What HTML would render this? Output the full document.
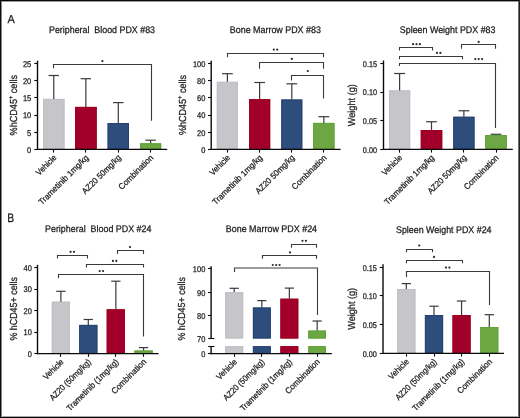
<!DOCTYPE html>
<html><head><meta charset="utf-8"><style>
html,body{margin:0;padding:0;background:#fff;}
#wrap{position:relative;width:520px;height:418px;overflow:hidden;background:#fff;}
svg{position:absolute;left:0;top:0;will-change:transform;text-rendering:geometricPrecision;font-family:"Liberation Sans", sans-serif;}
</style></head><body><div id="wrap">
<svg width="520" height="418" viewBox="0 0 520 418">
<rect x="0" y="0" width="520" height="418" fill="#fff"/>
<rect x="43" y="98.9" width="21.5" height="50.5" fill="#c6c5ca"/>
<rect x="43.45" y="99.35" width="20.6" height="49.6" fill="none" stroke="#bebdc3" stroke-width="0.9"/>
<line x1="53.75" y1="75.5" x2="53.75" y2="98.9" stroke="#3a3a3a" stroke-width="1.2"/>
<line x1="48.55" y1="75.5" x2="58.95" y2="75.5" stroke="#3a3a3a" stroke-width="1.2"/>
<line x1="53.5" y1="149.4" x2="53.5" y2="152.6" stroke="#0a0a0a" stroke-width="1.1"/>
<rect x="75" y="106.9" width="21.7" height="42.5" fill="#a2002a"/>
<rect x="75.45" y="107.35" width="20.8" height="41.6" fill="none" stroke="#9c001c" stroke-width="0.9"/>
<line x1="85.85" y1="78.7" x2="85.85" y2="106.9" stroke="#3a3a3a" stroke-width="1.2"/>
<line x1="80.64999999999999" y1="78.7" x2="91.05" y2="78.7" stroke="#3a3a3a" stroke-width="1.2"/>
<line x1="85.5" y1="149.4" x2="85.5" y2="152.6" stroke="#0a0a0a" stroke-width="1.1"/>
<rect x="107.6" y="123" width="21.4" height="26.4" fill="#2d4d7d"/>
<rect x="108.05" y="123.45" width="20.5" height="25.5" fill="none" stroke="#26416f" stroke-width="0.9"/>
<line x1="118.3" y1="102.6" x2="118.3" y2="123" stroke="#3a3a3a" stroke-width="1.2"/>
<line x1="113.1" y1="102.6" x2="123.5" y2="102.6" stroke="#3a3a3a" stroke-width="1.2"/>
<line x1="118.5" y1="149.4" x2="118.5" y2="152.6" stroke="#0a0a0a" stroke-width="1.1"/>
<rect x="140" y="143.3" width="21.2" height="6.1" fill="#6ca743"/>
<rect x="140.45" y="143.75" width="20.3" height="5.2" fill="none" stroke="#5fa233" stroke-width="0.9"/>
<line x1="150.6" y1="140.2" x2="150.6" y2="143.3" stroke="#3a3a3a" stroke-width="1.2"/>
<line x1="145.4" y1="140.2" x2="155.79999999999998" y2="140.2" stroke="#3a3a3a" stroke-width="1.2"/>
<line x1="150.5" y1="149.4" x2="150.5" y2="152.6" stroke="#0a0a0a" stroke-width="1.1"/>
<line x1="37.5" y1="60.7" x2="37.5" y2="150.0" stroke="#0a0a0a" stroke-width="1.4"/>
<line x1="34.3" y1="149.5" x2="37.5" y2="149.5" stroke="#0a0a0a" stroke-width="1.1"/>
<text x="31.2" y="152.705" font-size="8.3" text-anchor="end" textLength="4.16" lengthAdjust="spacingAndGlyphs" fill="#1a1a1a" stroke="#1a1a1a" stroke-width="0.25" >0</text>
<line x1="34.3" y1="132.5" x2="37.5" y2="132.5" stroke="#0a0a0a" stroke-width="1.1"/>
<text x="31.2" y="135.525" font-size="8.3" text-anchor="end" textLength="4.16" lengthAdjust="spacingAndGlyphs" fill="#1a1a1a" stroke="#1a1a1a" stroke-width="0.25" >5</text>
<line x1="34.3" y1="115.5" x2="37.5" y2="115.5" stroke="#0a0a0a" stroke-width="1.1"/>
<text x="31.2" y="118.34500000000001" font-size="8.3" text-anchor="end" textLength="8.31" lengthAdjust="spacingAndGlyphs" fill="#1a1a1a" stroke="#1a1a1a" stroke-width="0.25" >10</text>
<line x1="34.3" y1="97.5" x2="37.5" y2="97.5" stroke="#0a0a0a" stroke-width="1.1"/>
<text x="31.2" y="101.165" font-size="8.3" text-anchor="end" textLength="8.31" lengthAdjust="spacingAndGlyphs" fill="#1a1a1a" stroke="#1a1a1a" stroke-width="0.25" >15</text>
<line x1="34.3" y1="80.5" x2="37.5" y2="80.5" stroke="#0a0a0a" stroke-width="1.1"/>
<text x="31.2" y="83.98500000000001" font-size="8.3" text-anchor="end" textLength="8.31" lengthAdjust="spacingAndGlyphs" fill="#1a1a1a" stroke="#1a1a1a" stroke-width="0.25" >20</text>
<line x1="34.3" y1="63.5" x2="37.5" y2="63.5" stroke="#0a0a0a" stroke-width="1.1"/>
<text x="31.2" y="66.805" font-size="8.3" text-anchor="end" textLength="8.31" lengthAdjust="spacingAndGlyphs" fill="#1a1a1a" stroke="#1a1a1a" stroke-width="0.25" >25</text>
<line x1="36.9" y1="149.4" x2="167.2" y2="149.4" stroke="#0a0a0a" stroke-width="1.25"/>
<path d="M53.5 68.3 V64.5 H151.5 V120.8" fill="none" stroke="#3a3a3a" stroke-width="1.1"/>
<circle cx="102.4" cy="61.1" r="1.1" fill="#2a2a2a"/>
<g transform="translate(16.9,105.2) rotate(-90)">
<text x="0" y="0" font-size="10.2" text-anchor="middle" textLength="60.4" lengthAdjust="spacingAndGlyphs" fill="#1a1a1a" stroke="#1a1a1a" stroke-width="0.25" >%hCD45<tspan font-size="6.5" dy="-3.8">+</tspan><tspan dy="3.8"> cells</tspan></text>
</g>
<text x="49.0" y="32.7" font-size="9.6" text-anchor="start" textLength="106.0" lengthAdjust="spacingAndGlyphs" fill="#1a1a1a" stroke="#1a1a1a" stroke-width="0.25" >Peripheral&#160; Blood PDX #83</text>
<text x="57.05" y="158.2" font-size="8.5" text-anchor="end" stroke="#1a1a1a" stroke-width="0.25" textLength="25.11" lengthAdjust="spacingAndGlyphs" fill="#1a1a1a" transform="rotate(-45 57.05 158.2)">Vehicle</text>
<text x="89.15" y="158.2" font-size="8.5" text-anchor="end" stroke="#1a1a1a" stroke-width="0.25" textLength="66.68" lengthAdjust="spacingAndGlyphs" fill="#1a1a1a" transform="rotate(-45 89.15 158.2)">Trametinib 1mg/kg</text>
<text x="121.6" y="158.2" font-size="8.5" text-anchor="end" stroke="#1a1a1a" stroke-width="0.25" textLength="51.28" lengthAdjust="spacingAndGlyphs" fill="#1a1a1a" transform="rotate(-45 121.6 158.2)">AZ20 50mg/kg</text>
<text x="153.9" y="158.2" font-size="8.5" text-anchor="end" stroke="#1a1a1a" stroke-width="0.25" textLength="45.31" lengthAdjust="spacingAndGlyphs" fill="#1a1a1a" transform="rotate(-45 153.9 158.2)">Combination</text>
<rect x="216.8" y="81.8" width="21.2" height="67.6" fill="#c6c5ca"/>
<rect x="217.25" y="82.25" width="20.3" height="66.7" fill="none" stroke="#bebdc3" stroke-width="0.9"/>
<line x1="227.4" y1="73.7" x2="227.4" y2="81.8" stroke="#3a3a3a" stroke-width="1.2"/>
<line x1="222.0" y1="73.7" x2="232.8" y2="73.7" stroke="#3a3a3a" stroke-width="1.2"/>
<line x1="227.5" y1="149.4" x2="227.5" y2="152.6" stroke="#0a0a0a" stroke-width="1.1"/>
<rect x="249" y="99.2" width="21.2" height="50.2" fill="#a2002a"/>
<rect x="249.45" y="99.65" width="20.3" height="49.3" fill="none" stroke="#9c001c" stroke-width="0.9"/>
<line x1="259.6" y1="82.5" x2="259.6" y2="99.2" stroke="#3a3a3a" stroke-width="1.2"/>
<line x1="254.20000000000002" y1="82.5" x2="265.0" y2="82.5" stroke="#3a3a3a" stroke-width="1.2"/>
<line x1="259.5" y1="149.4" x2="259.5" y2="152.6" stroke="#0a0a0a" stroke-width="1.1"/>
<rect x="281.3" y="99.5" width="21.0" height="49.9" fill="#2d4d7d"/>
<rect x="281.75" y="99.95" width="20.1" height="49.0" fill="none" stroke="#26416f" stroke-width="0.9"/>
<line x1="291.8" y1="83.8" x2="291.8" y2="99.5" stroke="#3a3a3a" stroke-width="1.2"/>
<line x1="286.40000000000003" y1="83.8" x2="297.2" y2="83.8" stroke="#3a3a3a" stroke-width="1.2"/>
<line x1="291.5" y1="149.4" x2="291.5" y2="152.6" stroke="#0a0a0a" stroke-width="1.1"/>
<rect x="313.2" y="122.9" width="21.3" height="26.5" fill="#6ca743"/>
<rect x="313.65" y="123.35" width="20.4" height="25.6" fill="none" stroke="#5fa233" stroke-width="0.9"/>
<line x1="323.85" y1="116.7" x2="323.85" y2="122.9" stroke="#3a3a3a" stroke-width="1.2"/>
<line x1="318.45000000000005" y1="116.7" x2="329.25" y2="116.7" stroke="#3a3a3a" stroke-width="1.2"/>
<line x1="323.5" y1="149.4" x2="323.5" y2="152.6" stroke="#0a0a0a" stroke-width="1.1"/>
<line x1="211.2" y1="60.8" x2="211.2" y2="150.0" stroke="#0a0a0a" stroke-width="1.4"/>
<line x1="208.0" y1="149.5" x2="211.2" y2="149.5" stroke="#0a0a0a" stroke-width="1.1"/>
<text x="205.4" y="152.705" font-size="8.3" text-anchor="end" textLength="4.16" lengthAdjust="spacingAndGlyphs" fill="#1a1a1a" stroke="#1a1a1a" stroke-width="0.25" >0</text>
<line x1="208.0" y1="132.5" x2="211.2" y2="132.5" stroke="#0a0a0a" stroke-width="1.1"/>
<text x="205.4" y="135.54500000000002" font-size="8.3" text-anchor="end" textLength="8.31" lengthAdjust="spacingAndGlyphs" fill="#1a1a1a" stroke="#1a1a1a" stroke-width="0.25" >20</text>
<line x1="208.0" y1="115.5" x2="211.2" y2="115.5" stroke="#0a0a0a" stroke-width="1.1"/>
<text x="205.4" y="118.385" font-size="8.3" text-anchor="end" textLength="8.31" lengthAdjust="spacingAndGlyphs" fill="#1a1a1a" stroke="#1a1a1a" stroke-width="0.25" >40</text>
<line x1="208.0" y1="97.5" x2="211.2" y2="97.5" stroke="#0a0a0a" stroke-width="1.1"/>
<text x="205.4" y="101.22500000000001" font-size="8.3" text-anchor="end" textLength="8.31" lengthAdjust="spacingAndGlyphs" fill="#1a1a1a" stroke="#1a1a1a" stroke-width="0.25" >60</text>
<line x1="208.0" y1="80.5" x2="211.2" y2="80.5" stroke="#0a0a0a" stroke-width="1.1"/>
<text x="205.4" y="84.06500000000001" font-size="8.3" text-anchor="end" textLength="8.31" lengthAdjust="spacingAndGlyphs" fill="#1a1a1a" stroke="#1a1a1a" stroke-width="0.25" >80</text>
<line x1="208.0" y1="63.5" x2="211.2" y2="63.5" stroke="#0a0a0a" stroke-width="1.1"/>
<text x="205.4" y="66.905" font-size="8.3" text-anchor="end" textLength="12.47" lengthAdjust="spacingAndGlyphs" fill="#1a1a1a" stroke="#1a1a1a" stroke-width="0.25" >100</text>
<line x1="210.6" y1="149.4" x2="340.6" y2="149.4" stroke="#0a0a0a" stroke-width="1.25"/>
<path d="M227.5 57.3 V53.5 H323.5 V57.3" fill="none" stroke="#3a3a3a" stroke-width="1.1"/>
<circle cx="273.8" cy="49.6" r="1.1" fill="#2a2a2a"/>
<circle cx="277.2" cy="49.6" r="1.1" fill="#2a2a2a"/>
<path d="M259.5 68.8 V62.5 H323.5 V68.8" fill="none" stroke="#3a3a3a" stroke-width="1.1"/>
<circle cx="291.8" cy="58.9" r="1.1" fill="#2a2a2a"/>
<path d="M291.5 80.4 V75.5 H323.5 V98.6" fill="none" stroke="#3a3a3a" stroke-width="1.1"/>
<circle cx="307.8" cy="71.1" r="1.1" fill="#2a2a2a"/>
<g transform="translate(185.5,105.0) rotate(-90)">
<text x="0" y="0" font-size="10.2" text-anchor="middle" textLength="60.1" lengthAdjust="spacingAndGlyphs" fill="#1a1a1a" stroke="#1a1a1a" stroke-width="0.25" >%hCD45<tspan font-size="6.5" dy="-3.8">+</tspan><tspan dy="3.8"> cells</tspan></text>
</g>
<text x="229.8" y="32.8" font-size="9.6" text-anchor="start" textLength="91.1" lengthAdjust="spacingAndGlyphs" fill="#1a1a1a" stroke="#1a1a1a" stroke-width="0.25" >Bone Marrow PDX #83</text>
<text x="230.7" y="158.2" font-size="8.5" text-anchor="end" stroke="#1a1a1a" stroke-width="0.25" textLength="25.11" lengthAdjust="spacingAndGlyphs" fill="#1a1a1a" transform="rotate(-45 230.7 158.2)">Vehicle</text>
<text x="262.9" y="158.2" font-size="8.5" text-anchor="end" stroke="#1a1a1a" stroke-width="0.25" textLength="66.68" lengthAdjust="spacingAndGlyphs" fill="#1a1a1a" transform="rotate(-45 262.9 158.2)">Trametinib 1mg/kg</text>
<text x="295.1" y="158.2" font-size="8.5" text-anchor="end" stroke="#1a1a1a" stroke-width="0.25" textLength="51.28" lengthAdjust="spacingAndGlyphs" fill="#1a1a1a" transform="rotate(-45 295.1 158.2)">AZ20 50mg/kg</text>
<text x="327.15" y="158.2" font-size="8.5" text-anchor="end" stroke="#1a1a1a" stroke-width="0.25" textLength="45.31" lengthAdjust="spacingAndGlyphs" fill="#1a1a1a" transform="rotate(-45 327.15 158.2)">Combination</text>
<rect x="389" y="90.4" width="21.2" height="59.0" fill="#c6c5ca"/>
<rect x="389.45" y="90.85" width="20.3" height="58.1" fill="none" stroke="#bebdc3" stroke-width="0.9"/>
<line x1="399.6" y1="73.5" x2="399.6" y2="90.4" stroke="#3a3a3a" stroke-width="1.2"/>
<line x1="394.20000000000005" y1="73.5" x2="405.0" y2="73.5" stroke="#3a3a3a" stroke-width="1.2"/>
<line x1="399.5" y1="149.4" x2="399.5" y2="152.6" stroke="#0a0a0a" stroke-width="1.1"/>
<rect x="420.75" y="130" width="21.5" height="19.4" fill="#a2002a"/>
<rect x="421.2" y="130.45" width="20.6" height="18.5" fill="none" stroke="#9c001c" stroke-width="0.9"/>
<line x1="431.5" y1="121.75" x2="431.5" y2="130" stroke="#3a3a3a" stroke-width="1.2"/>
<line x1="426.1" y1="121.75" x2="436.9" y2="121.75" stroke="#3a3a3a" stroke-width="1.2"/>
<line x1="431.5" y1="149.4" x2="431.5" y2="152.6" stroke="#0a0a0a" stroke-width="1.1"/>
<rect x="453.25" y="116.75" width="21.25" height="32.65" fill="#2d4d7d"/>
<rect x="453.7" y="117.2" width="20.35" height="31.75" fill="none" stroke="#26416f" stroke-width="0.9"/>
<line x1="463.875" y1="110.75" x2="463.875" y2="116.75" stroke="#3a3a3a" stroke-width="1.2"/>
<line x1="458.475" y1="110.75" x2="469.275" y2="110.75" stroke="#3a3a3a" stroke-width="1.2"/>
<line x1="463.5" y1="149.4" x2="463.5" y2="152.6" stroke="#0a0a0a" stroke-width="1.1"/>
<rect x="485.25" y="135" width="21.5" height="14.4" fill="#6ca743"/>
<rect x="485.7" y="135.45" width="20.6" height="13.5" fill="none" stroke="#5fa233" stroke-width="0.9"/>
<line x1="496.0" y1="134.25" x2="496.0" y2="135" stroke="#3a3a3a" stroke-width="1.2"/>
<line x1="490.6" y1="134.25" x2="501.4" y2="134.25" stroke="#3a3a3a" stroke-width="1.2"/>
<line x1="496.5" y1="149.4" x2="496.5" y2="152.6" stroke="#0a0a0a" stroke-width="1.1"/>
<line x1="383.5" y1="60.5" x2="383.5" y2="150.0" stroke="#0a0a0a" stroke-width="1.4"/>
<line x1="380.3" y1="149.5" x2="383.5" y2="149.5" stroke="#0a0a0a" stroke-width="1.1"/>
<text x="377" y="152.705" font-size="8.3" text-anchor="end" textLength="14.14" lengthAdjust="spacingAndGlyphs" fill="#1a1a1a" stroke="#1a1a1a" stroke-width="0.25" >0.00</text>
<line x1="380.3" y1="120.5" x2="383.5" y2="120.5" stroke="#0a0a0a" stroke-width="1.1"/>
<text x="377" y="124.075" font-size="8.3" text-anchor="end" textLength="14.14" lengthAdjust="spacingAndGlyphs" fill="#1a1a1a" stroke="#1a1a1a" stroke-width="0.25" >0.05</text>
<line x1="380.3" y1="92.5" x2="383.5" y2="92.5" stroke="#0a0a0a" stroke-width="1.1"/>
<text x="377" y="95.435" font-size="8.3" text-anchor="end" textLength="14.14" lengthAdjust="spacingAndGlyphs" fill="#1a1a1a" stroke="#1a1a1a" stroke-width="0.25" >0.10</text>
<line x1="380.3" y1="63.5" x2="383.5" y2="63.5" stroke="#0a0a0a" stroke-width="1.1"/>
<text x="377" y="66.805" font-size="8.3" text-anchor="end" textLength="14.14" lengthAdjust="spacingAndGlyphs" fill="#1a1a1a" stroke="#1a1a1a" stroke-width="0.25" >0.15</text>
<line x1="382.9" y1="149.4" x2="512.8" y2="149.4" stroke="#0a0a0a" stroke-width="1.25"/>
<path d="M399.5 50.6 V47.5 H432.5 V50.6" fill="none" stroke="#3a3a3a" stroke-width="1.1"/>
<circle cx="413.1" cy="44.2" r="1.1" fill="#2a2a2a"/>
<circle cx="416.5" cy="44.2" r="1.1" fill="#2a2a2a"/>
<circle cx="419.9" cy="44.2" r="1.1" fill="#2a2a2a"/>
<path d="M399.5 59.2 V56.5 H462.5 V59.2" fill="none" stroke="#3a3a3a" stroke-width="1.1"/>
<circle cx="437.0" cy="52.9" r="1.1" fill="#2a2a2a"/>
<circle cx="440.4" cy="52.9" r="1.1" fill="#2a2a2a"/>
<path d="M461.5 48.7 V44.5 H495.5 V48.7" fill="none" stroke="#3a3a3a" stroke-width="1.1"/>
<circle cx="478.7" cy="41.9" r="1.1" fill="#2a2a2a"/>
<path d="M399.5 66 V63.5 H495.5 V128" fill="none" stroke="#3a3a3a" stroke-width="1.1"/>
<circle cx="475.3" cy="59.1" r="1.1" fill="#2a2a2a"/>
<circle cx="478.7" cy="59.1" r="1.1" fill="#2a2a2a"/>
<circle cx="482.1" cy="59.1" r="1.1" fill="#2a2a2a"/>
<g transform="translate(354.9,105.2) rotate(-90)">
<text x="0" y="0" font-size="10.2" text-anchor="middle" textLength="42.1" lengthAdjust="spacingAndGlyphs" fill="#1a1a1a" stroke="#1a1a1a" stroke-width="0.25" >Weight (g)</text>
</g>
<text x="399.8" y="32.8" font-size="9.6" text-anchor="start" textLength="95.7" lengthAdjust="spacingAndGlyphs" fill="#1a1a1a" stroke="#1a1a1a" stroke-width="0.25" >Spleen Weight PDX #83</text>
<text x="402.9" y="158.2" font-size="8.5" text-anchor="end" stroke="#1a1a1a" stroke-width="0.25" textLength="25.11" lengthAdjust="spacingAndGlyphs" fill="#1a1a1a" transform="rotate(-45 402.9 158.2)">Vehicle</text>
<text x="434.8" y="158.2" font-size="8.5" text-anchor="end" stroke="#1a1a1a" stroke-width="0.25" textLength="66.68" lengthAdjust="spacingAndGlyphs" fill="#1a1a1a" transform="rotate(-45 434.8 158.2)">Trametinib 1mg/kg</text>
<text x="467.18" y="158.2" font-size="8.5" text-anchor="end" stroke="#1a1a1a" stroke-width="0.25" textLength="51.28" lengthAdjust="spacingAndGlyphs" fill="#1a1a1a" transform="rotate(-45 467.18 158.2)">AZ20 50mg/kg</text>
<text x="499.3" y="158.2" font-size="8.5" text-anchor="end" stroke="#1a1a1a" stroke-width="0.25" textLength="45.31" lengthAdjust="spacingAndGlyphs" fill="#1a1a1a" transform="rotate(-45 499.3 158.2)">Combination</text>
<rect x="51.8" y="301.7" width="18.2" height="51.9" fill="#c6c5ca"/>
<rect x="52.25" y="302.15" width="17.3" height="51.0" fill="none" stroke="#bebdc3" stroke-width="0.9"/>
<line x1="60.9" y1="291.3" x2="60.9" y2="301.7" stroke="#3a3a3a" stroke-width="1.2"/>
<line x1="56.25" y1="291.3" x2="65.55" y2="291.3" stroke="#3a3a3a" stroke-width="1.2"/>
<line x1="60.5" y1="353.6" x2="60.5" y2="356.8" stroke="#0a0a0a" stroke-width="1.1"/>
<rect x="79.2" y="324.9" width="18.2" height="28.7" fill="#2d4d7d"/>
<rect x="79.65" y="325.35" width="17.3" height="27.8" fill="none" stroke="#26416f" stroke-width="0.9"/>
<line x1="88.30000000000001" y1="319.5" x2="88.30000000000001" y2="324.9" stroke="#3a3a3a" stroke-width="1.2"/>
<line x1="83.65" y1="319.5" x2="92.95000000000002" y2="319.5" stroke="#3a3a3a" stroke-width="1.2"/>
<line x1="88.5" y1="353.6" x2="88.5" y2="356.8" stroke="#0a0a0a" stroke-width="1.1"/>
<rect x="106.7" y="309.3" width="18.3" height="44.3" fill="#a2002a"/>
<rect x="107.15" y="309.75" width="17.4" height="43.4" fill="none" stroke="#9c001c" stroke-width="0.9"/>
<line x1="115.85" y1="281.2" x2="115.85" y2="309.3" stroke="#3a3a3a" stroke-width="1.2"/>
<line x1="111.19999999999999" y1="281.2" x2="120.5" y2="281.2" stroke="#3a3a3a" stroke-width="1.2"/>
<line x1="115.5" y1="353.6" x2="115.5" y2="356.8" stroke="#0a0a0a" stroke-width="1.1"/>
<rect x="134.4" y="350.5" width="18.3" height="3.1" fill="#6ca743"/>
<rect x="134.85" y="350.95" width="17.4" height="2.2" fill="none" stroke="#5fa233" stroke-width="0.9"/>
<line x1="143.55" y1="347.6" x2="143.55" y2="350.5" stroke="#3a3a3a" stroke-width="1.2"/>
<line x1="138.9" y1="347.6" x2="148.20000000000002" y2="347.6" stroke="#3a3a3a" stroke-width="1.2"/>
<line x1="143.5" y1="353.6" x2="143.5" y2="356.8" stroke="#0a0a0a" stroke-width="1.1"/>
<line x1="37.5" y1="264.8" x2="37.5" y2="354.20000000000005" stroke="#0a0a0a" stroke-width="1.4"/>
<line x1="34.3" y1="353.5" x2="37.5" y2="353.5" stroke="#0a0a0a" stroke-width="1.1"/>
<text x="31.8" y="356.905" font-size="8.3" text-anchor="end" textLength="4.16" lengthAdjust="spacingAndGlyphs" fill="#1a1a1a" stroke="#1a1a1a" stroke-width="0.25" >0</text>
<line x1="34.3" y1="332.5" x2="37.5" y2="332.5" stroke="#0a0a0a" stroke-width="1.1"/>
<text x="31.8" y="335.405" font-size="8.3" text-anchor="end" textLength="8.31" lengthAdjust="spacingAndGlyphs" fill="#1a1a1a" stroke="#1a1a1a" stroke-width="0.25" >10</text>
<line x1="34.3" y1="310.5" x2="37.5" y2="310.5" stroke="#0a0a0a" stroke-width="1.1"/>
<text x="31.8" y="313.905" font-size="8.3" text-anchor="end" textLength="8.31" lengthAdjust="spacingAndGlyphs" fill="#1a1a1a" stroke="#1a1a1a" stroke-width="0.25" >20</text>
<line x1="34.3" y1="289.5" x2="37.5" y2="289.5" stroke="#0a0a0a" stroke-width="1.1"/>
<text x="31.8" y="292.405" font-size="8.3" text-anchor="end" textLength="8.31" lengthAdjust="spacingAndGlyphs" fill="#1a1a1a" stroke="#1a1a1a" stroke-width="0.25" >30</text>
<line x1="34.3" y1="267.5" x2="37.5" y2="267.5" stroke="#0a0a0a" stroke-width="1.1"/>
<text x="31.8" y="270.905" font-size="8.3" text-anchor="end" textLength="8.31" lengthAdjust="spacingAndGlyphs" fill="#1a1a1a" stroke="#1a1a1a" stroke-width="0.25" >40</text>
<line x1="36.9" y1="353.6" x2="158.5" y2="353.6" stroke="#0a0a0a" stroke-width="1.25"/>
<path d="M57.5 258.5 V255.5 H87.5 V258.5" fill="none" stroke="#3a3a3a" stroke-width="1.1"/>
<circle cx="70.6" cy="251.8" r="1.1" fill="#2a2a2a"/>
<circle cx="74.0" cy="251.8" r="1.1" fill="#2a2a2a"/>
<path d="M117.5 253.9 V250.5 H143.5 V253.9" fill="none" stroke="#3a3a3a" stroke-width="1.1"/>
<circle cx="130.0" cy="247.1" r="1.1" fill="#2a2a2a"/>
<path d="M86.5 267.6 V264.5 H143.5 V267.6" fill="none" stroke="#3a3a3a" stroke-width="1.1"/>
<circle cx="112.9" cy="260.9" r="1.1" fill="#2a2a2a"/>
<circle cx="116.3" cy="260.9" r="1.1" fill="#2a2a2a"/>
<path d="M58.5 278.2 V274.5 H143.5 V336.5" fill="none" stroke="#3a3a3a" stroke-width="1.1"/>
<circle cx="99.7" cy="271.1" r="1.1" fill="#2a2a2a"/>
<circle cx="103.1" cy="271.1" r="1.1" fill="#2a2a2a"/>
<g transform="translate(16.9,308.8) rotate(-90)">
<text x="0" y="0" font-size="10.2" text-anchor="middle" textLength="63.6" lengthAdjust="spacingAndGlyphs" fill="#1a1a1a" stroke="#1a1a1a" stroke-width="0.25" >% hCD45+ cells</text>
</g>
<text x="45.0" y="232.4" font-size="9.6" text-anchor="start" textLength="106.5" lengthAdjust="spacingAndGlyphs" fill="#1a1a1a" stroke="#1a1a1a" stroke-width="0.25" >Peripheral&#160; Blood PDX #24</text>
<text x="64.2" y="362.4" font-size="8.5" text-anchor="end" stroke="#1a1a1a" stroke-width="0.25" textLength="25.11" lengthAdjust="spacingAndGlyphs" fill="#1a1a1a" transform="rotate(-45 64.2 362.4)">Vehicle</text>
<text x="91.6" y="362.4" font-size="8.5" text-anchor="end" stroke="#1a1a1a" stroke-width="0.25" textLength="54.58" lengthAdjust="spacingAndGlyphs" fill="#1a1a1a" transform="rotate(-45 91.6 362.4)">AZ20 (50mg/kg)</text>
<text x="119.15" y="362.4" font-size="8.5" text-anchor="end" stroke="#1a1a1a" stroke-width="0.25" textLength="69.6" lengthAdjust="spacingAndGlyphs" fill="#1a1a1a" transform="rotate(-45 119.15 362.4)">Trametinib (1mg/kg)</text>
<text x="146.85" y="362.4" font-size="8.5" text-anchor="end" stroke="#1a1a1a" stroke-width="0.25" textLength="45.31" lengthAdjust="spacingAndGlyphs" fill="#1a1a1a" transform="rotate(-45 146.85 362.4)">Combination</text>
<rect x="397.2" y="289" width="18.2" height="64.4" fill="#c6c5ca"/>
<rect x="397.65" y="289.45" width="17.3" height="63.5" fill="none" stroke="#bebdc3" stroke-width="0.9"/>
<line x1="406.29999999999995" y1="283.6" x2="406.29999999999995" y2="289" stroke="#3a3a3a" stroke-width="1.2"/>
<line x1="401.65" y1="283.6" x2="410.94999999999993" y2="283.6" stroke="#3a3a3a" stroke-width="1.2"/>
<line x1="406.5" y1="353.4" x2="406.5" y2="356.59999999999997" stroke="#0a0a0a" stroke-width="1.1"/>
<rect x="424.9" y="315" width="18.2" height="38.4" fill="#2d4d7d"/>
<rect x="425.35" y="315.45" width="17.3" height="37.5" fill="none" stroke="#26416f" stroke-width="0.9"/>
<line x1="434.0" y1="306.2" x2="434.0" y2="315" stroke="#3a3a3a" stroke-width="1.2"/>
<line x1="429.35" y1="306.2" x2="438.65" y2="306.2" stroke="#3a3a3a" stroke-width="1.2"/>
<line x1="434.5" y1="353.4" x2="434.5" y2="356.59999999999997" stroke="#0a0a0a" stroke-width="1.1"/>
<rect x="452.5" y="315" width="18.1" height="38.4" fill="#a2002a"/>
<rect x="452.95" y="315.45" width="17.2" height="37.5" fill="none" stroke="#9c001c" stroke-width="0.9"/>
<line x1="461.55" y1="301" x2="461.55" y2="315" stroke="#3a3a3a" stroke-width="1.2"/>
<line x1="456.90000000000003" y1="301" x2="466.2" y2="301" stroke="#3a3a3a" stroke-width="1.2"/>
<line x1="461.5" y1="353.4" x2="461.5" y2="356.59999999999997" stroke="#0a0a0a" stroke-width="1.1"/>
<rect x="480.3" y="327.1" width="18.0" height="26.3" fill="#6ca743"/>
<rect x="480.75" y="327.55" width="17.1" height="25.4" fill="none" stroke="#5fa233" stroke-width="0.9"/>
<line x1="489.3" y1="314.7" x2="489.3" y2="327.1" stroke="#3a3a3a" stroke-width="1.2"/>
<line x1="484.65000000000003" y1="314.7" x2="493.95" y2="314.7" stroke="#3a3a3a" stroke-width="1.2"/>
<line x1="489.5" y1="353.4" x2="489.5" y2="356.59999999999997" stroke="#0a0a0a" stroke-width="1.1"/>
<line x1="383" y1="264.3" x2="383" y2="354.0" stroke="#0a0a0a" stroke-width="1.4"/>
<line x1="379.8" y1="353.5" x2="383" y2="353.5" stroke="#0a0a0a" stroke-width="1.1"/>
<text x="376.8" y="356.7049999999999" font-size="8.3" text-anchor="end" textLength="14.14" lengthAdjust="spacingAndGlyphs" fill="#1a1a1a" stroke="#1a1a1a" stroke-width="0.25" >0.00</text>
<line x1="379.8" y1="324.5" x2="383" y2="324.5" stroke="#0a0a0a" stroke-width="1.1"/>
<text x="376.8" y="327.97499999999997" font-size="8.3" text-anchor="end" textLength="14.14" lengthAdjust="spacingAndGlyphs" fill="#1a1a1a" stroke="#1a1a1a" stroke-width="0.25" >0.05</text>
<line x1="379.8" y1="295.5" x2="383" y2="295.5" stroke="#0a0a0a" stroke-width="1.1"/>
<text x="376.8" y="299.23499999999996" font-size="8.3" text-anchor="end" textLength="14.14" lengthAdjust="spacingAndGlyphs" fill="#1a1a1a" stroke="#1a1a1a" stroke-width="0.25" >0.10</text>
<line x1="379.8" y1="267.5" x2="383" y2="267.5" stroke="#0a0a0a" stroke-width="1.1"/>
<text x="376.8" y="270.50499999999994" font-size="8.3" text-anchor="end" textLength="14.14" lengthAdjust="spacingAndGlyphs" fill="#1a1a1a" stroke="#1a1a1a" stroke-width="0.25" >0.15</text>
<line x1="382.4" y1="353.4" x2="504" y2="353.4" stroke="#0a0a0a" stroke-width="1.25"/>
<path d="M406.5 252.3 V249.5 H432.5 V252.3" fill="none" stroke="#3a3a3a" stroke-width="1.1"/>
<circle cx="419.2" cy="245.5" r="1.1" fill="#2a2a2a"/>
<path d="M406.5 263.3 V260.5 H462.5 V263.3" fill="none" stroke="#3a3a3a" stroke-width="1.1"/>
<circle cx="434.0" cy="256.9" r="1.1" fill="#2a2a2a"/>
<path d="M406.5 277 V271.5 H489.5 V305" fill="none" stroke="#3a3a3a" stroke-width="1.1"/>
<circle cx="446.0" cy="267.6" r="1.1" fill="#2a2a2a"/>
<circle cx="449.4" cy="267.6" r="1.1" fill="#2a2a2a"/>
<g transform="translate(355.1,308.8) rotate(-90)">
<text x="0" y="0" font-size="10.2" text-anchor="middle" textLength="41.9" lengthAdjust="spacingAndGlyphs" fill="#1a1a1a" stroke="#1a1a1a" stroke-width="0.25" >Weight (g)</text>
</g>
<text x="396.0" y="232.5" font-size="9.6" text-anchor="start" textLength="95.5" lengthAdjust="spacingAndGlyphs" fill="#1a1a1a" stroke="#1a1a1a" stroke-width="0.25" >Spleen Weight PDX #24</text>
<text x="409.6" y="362.2" font-size="8.5" text-anchor="end" stroke="#1a1a1a" stroke-width="0.25" textLength="25.11" lengthAdjust="spacingAndGlyphs" fill="#1a1a1a" transform="rotate(-45 409.6 362.2)">Vehicle</text>
<text x="437.3" y="362.2" font-size="8.5" text-anchor="end" stroke="#1a1a1a" stroke-width="0.25" textLength="54.58" lengthAdjust="spacingAndGlyphs" fill="#1a1a1a" transform="rotate(-45 437.3 362.2)">AZ20 (50mg/kg)</text>
<text x="464.85" y="362.2" font-size="8.5" text-anchor="end" stroke="#1a1a1a" stroke-width="0.25" textLength="69.6" lengthAdjust="spacingAndGlyphs" fill="#1a1a1a" transform="rotate(-45 464.85 362.2)">Trametinib (1mg/kg)</text>
<text x="492.6" y="362.2" font-size="8.5" text-anchor="end" stroke="#1a1a1a" stroke-width="0.25" textLength="45.31" lengthAdjust="spacingAndGlyphs" fill="#1a1a1a" transform="rotate(-45 492.6 362.2)">Combination</text>
<rect x="225.2" y="292" width="18.0" height="46.5" fill="#c6c5ca"/>
<rect x="225.65" y="292.45" width="17.1" height="45.6" fill="none" stroke="#bebdc3" stroke-width="0.9"/>
<rect x="225.2" y="346.2" width="18.0" height="7.4" fill="#c6c5ca"/>
<rect x="225.65" y="346.65" width="17.1" height="6.5" fill="none" stroke="#bebdc3" stroke-width="0.9"/>
<line x1="234.2" y1="288.3" x2="234.2" y2="292" stroke="#3a3a3a" stroke-width="1.2"/>
<line x1="229.6" y1="288.3" x2="238.79999999999998" y2="288.3" stroke="#3a3a3a" stroke-width="1.2"/>
<line x1="234.5" y1="353.6" x2="234.5" y2="356.8" stroke="#0a0a0a" stroke-width="1.1"/>
<rect x="252.9" y="307.5" width="17.9" height="31.0" fill="#2d4d7d"/>
<rect x="253.35" y="307.95" width="17.0" height="30.1" fill="none" stroke="#26416f" stroke-width="0.9"/>
<rect x="252.9" y="346.2" width="17.9" height="7.4" fill="#2d4d7d"/>
<rect x="253.35" y="346.65" width="17.0" height="6.5" fill="none" stroke="#26416f" stroke-width="0.9"/>
<line x1="261.85" y1="300.6" x2="261.85" y2="307.5" stroke="#3a3a3a" stroke-width="1.2"/>
<line x1="257.25" y1="300.6" x2="266.45000000000005" y2="300.6" stroke="#3a3a3a" stroke-width="1.2"/>
<line x1="261.5" y1="353.6" x2="261.5" y2="356.8" stroke="#0a0a0a" stroke-width="1.1"/>
<rect x="280.4" y="298.7" width="17.9" height="39.8" fill="#a2002a"/>
<rect x="280.85" y="299.15" width="17.0" height="38.9" fill="none" stroke="#9c001c" stroke-width="0.9"/>
<rect x="280.4" y="346.2" width="17.9" height="7.4" fill="#a2002a"/>
<rect x="280.85" y="346.65" width="17.0" height="6.5" fill="none" stroke="#9c001c" stroke-width="0.9"/>
<line x1="289.35" y1="288.1" x2="289.35" y2="298.7" stroke="#3a3a3a" stroke-width="1.2"/>
<line x1="284.75" y1="288.1" x2="293.95000000000005" y2="288.1" stroke="#3a3a3a" stroke-width="1.2"/>
<line x1="289.5" y1="353.6" x2="289.5" y2="356.8" stroke="#0a0a0a" stroke-width="1.1"/>
<rect x="308.3" y="330.6" width="17.7" height="7.9" fill="#6ca743"/>
<rect x="308.75" y="331.05" width="16.8" height="7.0" fill="none" stroke="#5fa233" stroke-width="0.9"/>
<rect x="308.3" y="346.2" width="17.7" height="7.4" fill="#6ca743"/>
<rect x="308.75" y="346.65" width="16.8" height="6.5" fill="none" stroke="#5fa233" stroke-width="0.9"/>
<line x1="317.15" y1="321" x2="317.15" y2="330.6" stroke="#3a3a3a" stroke-width="1.2"/>
<line x1="312.54999999999995" y1="321" x2="321.75" y2="321" stroke="#3a3a3a" stroke-width="1.2"/>
<line x1="317.5" y1="353.6" x2="317.5" y2="356.8" stroke="#0a0a0a" stroke-width="1.1"/>
<line x1="211.1" y1="266.3" x2="211.1" y2="338.5" stroke="#0a0a0a" stroke-width="1.4"/>
<line x1="211.1" y1="346.2" x2="211.1" y2="354.20000000000005" stroke="#0a0a0a" stroke-width="1.4"/>
<line x1="208.2" y1="338.5" x2="214.4" y2="338.5" stroke="#0a0a0a" stroke-width="1.1"/>
<line x1="208.2" y1="346.5" x2="214.4" y2="346.5" stroke="#0a0a0a" stroke-width="1.1"/>
<line x1="207.9" y1="268.5" x2="211.1" y2="268.5" stroke="#0a0a0a" stroke-width="1.1"/>
<text x="205.3" y="272.2049999999999" font-size="8.3" text-anchor="end" textLength="12.47" lengthAdjust="spacingAndGlyphs" fill="#1a1a1a" stroke="#1a1a1a" stroke-width="0.25" >100</text>
<line x1="207.9" y1="292.5" x2="211.1" y2="292.5" stroke="#0a0a0a" stroke-width="1.1"/>
<text x="205.3" y="295.60499999999996" font-size="8.3" text-anchor="end" textLength="8.31" lengthAdjust="spacingAndGlyphs" fill="#1a1a1a" stroke="#1a1a1a" stroke-width="0.25" >90</text>
<line x1="207.9" y1="315.5" x2="211.1" y2="315.5" stroke="#0a0a0a" stroke-width="1.1"/>
<text x="205.3" y="319.00499999999994" font-size="8.3" text-anchor="end" textLength="8.31" lengthAdjust="spacingAndGlyphs" fill="#1a1a1a" stroke="#1a1a1a" stroke-width="0.25" >80</text>
<text x="205.3" y="342.405" font-size="8.3" text-anchor="end" textLength="8.31" lengthAdjust="spacingAndGlyphs" fill="#1a1a1a" stroke="#1a1a1a" stroke-width="0.25" >70</text>
<line x1="207.9" y1="353.5" x2="211.1" y2="353.5" stroke="#0a0a0a" stroke-width="1.1"/>
<text x="205.3" y="356.905" font-size="8.3" text-anchor="end" textLength="4.16" lengthAdjust="spacingAndGlyphs" fill="#1a1a1a" stroke="#1a1a1a" stroke-width="0.25" >0</text>
<line x1="210.5" y1="353.6" x2="331.8" y2="353.6" stroke="#0a0a0a" stroke-width="1.25"/>
<path d="M291.5 247.8 V244.5 H316.5 V247.8" fill="none" stroke="#3a3a3a" stroke-width="1.1"/>
<circle cx="302.5" cy="240.8" r="1.1" fill="#2a2a2a"/>
<circle cx="305.9" cy="240.8" r="1.1" fill="#2a2a2a"/>
<path d="M262.5 258.8 V255.5 H316.5 V258.8" fill="none" stroke="#3a3a3a" stroke-width="1.1"/>
<circle cx="290.0" cy="252.4" r="1.1" fill="#2a2a2a"/>
<path d="M234.5 271.9 V268.0 H317.5 V315" fill="none" stroke="#3a3a3a" stroke-width="1.1"/>
<circle cx="272.8" cy="265.0" r="1.1" fill="#2a2a2a"/>
<circle cx="276.2" cy="265.0" r="1.1" fill="#2a2a2a"/>
<circle cx="279.6" cy="265.0" r="1.1" fill="#2a2a2a"/>
<g transform="translate(185.4,308.8) rotate(-90)">
<text x="0" y="0" font-size="10.2" text-anchor="middle" textLength="63.6" lengthAdjust="spacingAndGlyphs" fill="#1a1a1a" stroke="#1a1a1a" stroke-width="0.25" >% hCD45+ cells</text>
</g>
<text x="225.8" y="232.4" font-size="9.6" text-anchor="start" textLength="91.3" lengthAdjust="spacingAndGlyphs" fill="#1a1a1a" stroke="#1a1a1a" stroke-width="0.25" >Bone Marrow PDX #24</text>
<text x="237.5" y="362.4" font-size="8.5" text-anchor="end" stroke="#1a1a1a" stroke-width="0.25" textLength="25.11" lengthAdjust="spacingAndGlyphs" fill="#1a1a1a" transform="rotate(-45 237.5 362.4)">Vehicle</text>
<text x="265.15" y="362.4" font-size="8.5" text-anchor="end" stroke="#1a1a1a" stroke-width="0.25" textLength="54.58" lengthAdjust="spacingAndGlyphs" fill="#1a1a1a" transform="rotate(-45 265.15 362.4)">AZ20 (50mg/kg)</text>
<text x="292.65" y="362.4" font-size="8.5" text-anchor="end" stroke="#1a1a1a" stroke-width="0.25" textLength="69.6" lengthAdjust="spacingAndGlyphs" fill="#1a1a1a" transform="rotate(-45 292.65 362.4)">Trametinib (1mg/kg)</text>
<text x="320.45" y="362.4" font-size="8.5" text-anchor="end" stroke="#1a1a1a" stroke-width="0.25" textLength="45.31" lengthAdjust="spacingAndGlyphs" fill="#1a1a1a" transform="rotate(-45 320.45 362.4)">Combination</text>
<text x="7.4" y="22.9" font-size="11.6" text-anchor="start" textLength="7.3" lengthAdjust="spacingAndGlyphs" fill="#1a1a1a" stroke="#1a1a1a" stroke-width="0.25" >A</text>
<text x="7.3" y="221.9" font-size="12.2" text-anchor="start" textLength="6.9" lengthAdjust="spacingAndGlyphs" fill="#1a1a1a" stroke="#1a1a1a" stroke-width="0.25" >B</text>
<g shape-rendering="crispEdges">
<rect x="0" y="1" width="520" height="1" fill="#999"/>
<rect x="1" y="0" width="1" height="418" fill="#888"/>
<rect x="518" y="0" width="1" height="418" fill="#707070"/>
<rect x="0" y="416" width="520" height="1" fill="#a8a8a8"/>
<rect x="0" y="0" width="520" height="1" fill="#080808"/>
<rect x="0" y="0" width="1" height="418" fill="#0c0c0c"/>
<rect x="519" y="0" width="1" height="418" fill="#222"/>
<rect x="0" y="417" width="520" height="1" fill="#050505"/>
</g>
</svg></div></body></html>
